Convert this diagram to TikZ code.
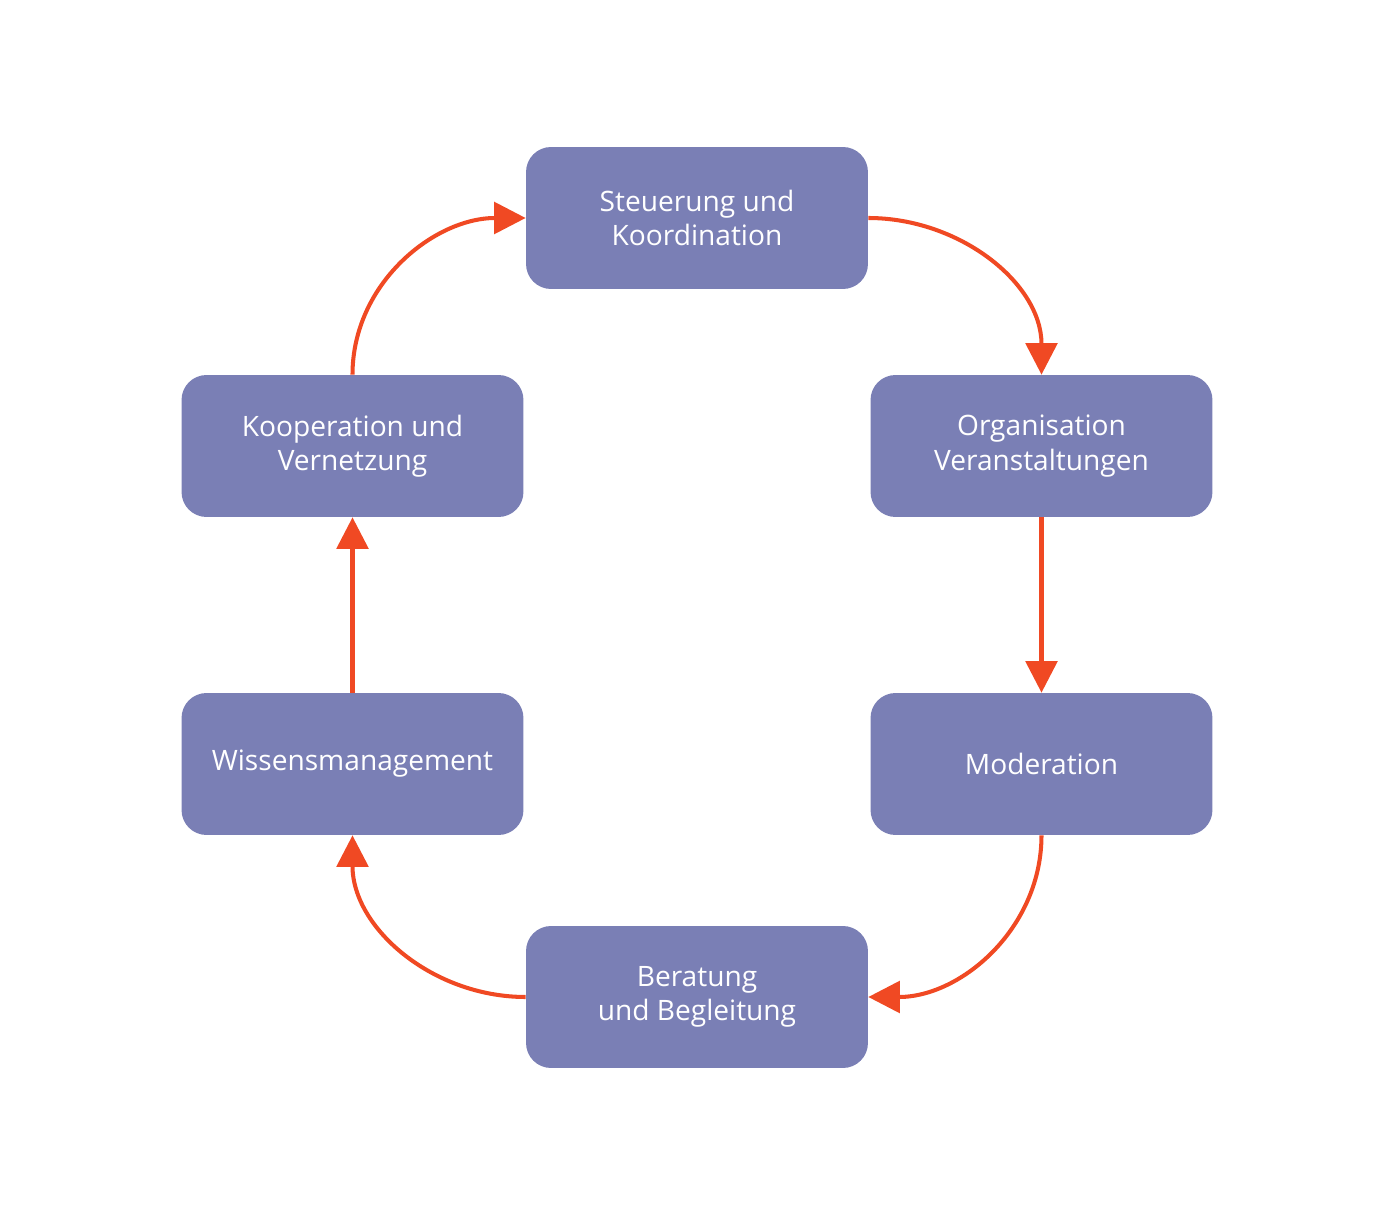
\documentclass[tikz,border=0pt]{standalone}
\usepackage{fontspec}
\setmainfont{Open Sans}
\usetikzlibrary{arrows.meta}

\definecolor{boxblue}{HTML}{7A7FB5}
\definecolor{arrowred}{HTML}{F04923}

\begin{document}
\begin{tikzpicture}[x=0.02cm,y=-0.02cm]

	\tikzstyle task box=[fill=boxblue, rounded corners=0.5cm, minimum width=6.84cm, minimum height=2.84cm, text=white, align=center, font=\fontsize{16}{19.5}\selectfont];
	\tikzstyle cycle lines=[draw=arrowred, line width=2.3pt, -{Triangle[length=18pt,width=18pt]}];

	\useasboundingbox (0,0) rectangle (1394,1216);

	\node[task box] (steuerung) at (697,218) {Steuerung und\\Koordination};
	\node[task box] (organisation) at (1041.5,446) {Organisation\\Veranstaltungen};
	\node[task box] (moderation) at (1041.5,764) {Moderation};
	\node[task box] (beratung) at (697,997) {Beratung\\und Begleitung};
	\node[task box] (wissen) at (352.5,764) {Wissensmanagement};
	\node[task box] (kooperation) at (352.5,446) {Kooperation und\\Vernetzung};

	\draw[cycle lines] (steuerung.east) to[out=0,in=90] (organisation.north);
	\draw[cycle lines] (organisation.south) -- (moderation.north);
	\draw[cycle lines] (moderation.south) to[out=-90,in=0] (beratung.east);
	\draw[cycle lines] (beratung.west) to[out=180,in=-90] (wissen.south);
	\draw[cycle lines] (wissen.north) -- (kooperation.south);
	\draw[cycle lines] (kooperation.north) to[out=90,in=180] (steuerung.west);

\end{tikzpicture}
\end{document}
